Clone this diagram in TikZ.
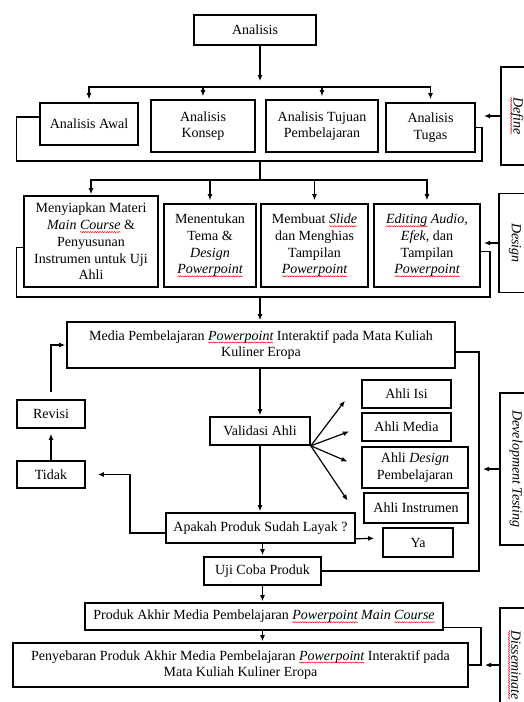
\documentclass[tikz,border=0pt]{standalone}
\usepackage{fontspec}
\setmainfont{Liberation Serif}
\usetikzlibrary{arrows.meta,calc,decorations.pathmorphing}
\newcommand{\spell}[1]{\tikz[baseline=(sp.base),x=1cm,y=1cm]{%
\node[inner sep=0pt, outer sep=0pt, minimum width=0pt, minimum height=0pt,
draw=none, fill=none, anchor=base] (sp) {#1};
\draw[overlay, red, line width=0.45pt, decorate,
decoration={snake, amplitude=0.6pt, segment length=2.4pt}]
([yshift=-2.4pt]sp.base west) -- ([yshift=-2.4pt]sp.base east);}}
\begin{document}
\begin{tikzpicture}[
x=1pt, y=-1pt,
box/.style={
draw,
line width=1.6pt,
align=center,
inner sep=1pt,
font=\fontsize{14}{16.7}\selectfont
},
stage/.style={box, font=\fontsize{14}{16.7}\selectfont\itshape},
line/.style={line width=1.2pt},
arrow/.style={line, -{Latex[length=6pt,width=5pt]}, shorten >=1pt}
]
\fill[white] (0,0) rectangle (524,702);
\useasboundingbox (0,0) rectangle (524,702);
\node[box, minimum width=122pt, minimum height=30pt] (analisis) at (255,30) {Analisis};
\node[box, minimum width=98pt, minimum height=42pt] (awal) at (89,124) {Analisis Awal};
\node[box, minimum width=104pt, minimum height=52pt] (konsep) at (203,126) {Analisis\\Konsep};
\node[box, minimum width=112pt, minimum height=52pt] (tujuan) at (322,126) {Analisis Tujuan\\Pembelajaran};
\node[box, minimum width=89pt, minimum height=49pt] (tugas) at (430.5,127.5) {Analisis\\Tugas};
\node[box, minimum width=134pt, minimum height=91pt] (siapkan) at (91,241.5)
{Menyiapkan Materi\\\textit{Main \spell{Course}} \&\\Penyusunan\\Instrumen untuk Uji\\Ahli};
\node[box, minimum width=92pt, minimum height=83pt] (tema) at (210,245.5)
{Menentukan\\Tema \&\\\textit{Design}\\\textit{\spell{Powerpoint}}};
\node[box, minimum width=107pt, minimum height=83pt] (slide) at (314.5,245.5)
{Membuat \textit{\spell{Slide}}\\dan Menghias\\Tampilan\\\textit{\spell{Powerpoint}}};
\node[box, minimum width=106pt, minimum height=83pt] (editing) at (427,245.5)
{\textit{\spell{Editing} Audio,}\\\textit{Efek}, dan\\Tampilan\\\textit{\spell{Powerpoint}}};
\node[box, minimum width=388pt, minimum height=46pt] (media) at (261,345)
{Media Pembelajaran \textit{\spell{Powerpoint}} Interaktif pada Mata Kuliah\\Kuliner Eropa};
\node[box, minimum width=100pt, minimum height=28pt] (validasi) at (260,431) {Validasi Ahli};
\node[box, minimum width=68pt, minimum height=28pt] (revisi) at (51,414) {Revisi};
\node[box, minimum width=68pt, minimum height=27pt] (tidak) at (51,474.5) {Tidak};
\node[box, minimum width=89pt, minimum height=28pt] (isi) at (406.5,394) {Ahli Isi};
\node[box, minimum width=89pt, minimum height=28pt] (ahlimedia) at (406.5,427) {Ahli Media};
\node[box, minimum width=106pt, minimum height=41pt] (desain) at (415,467.5) {Ahli \textit{Design}\\Pembelajaran};
\node[box, minimum width=104pt, minimum height=30pt] (instrumen) at (416,508) {Ahli Instrumen};
\node[box, minimum width=189pt, minimum height=30pt] (apakah) at (260.5,528) {Apakah Produk Sudah Layak ?};
\node[box, minimum width=70pt, minimum height=29pt] (ya) at (418,542.5) {Ya};
\node[box, minimum width=117pt, minimum height=28pt] (uji) at (262.5,571) {Uji Coba Produk};
\node[box, minimum width=358pt, minimum height=27pt] (produk) at (264,616.5)
{Produk Akhir Media Pembelajaran \textit{\spell{Powerpoint} Main \spell{Course}}};
\node[box, minimum width=455pt, minimum height=44pt] (sebar) at (240.5,665)
{Penyebaran Produk Akhir Media Pembelajaran \textit{\spell{Powerpoint}} Interaktif pada\\Mata Kuliah Kuliner Eropa};
\node[stage, minimum width=32pt, minimum height=98pt] (define) at (517,116) {\rotatebox{-90}{\spell{Define}}};
\node[stage, minimum width=32pt, minimum height=99pt] (design) at (515,243) {\rotatebox{-90}{Design}};
\node[stage, minimum width=32pt, minimum height=152pt] (devtest) at (516,469) {\rotatebox{-90}{Development Testing}};
\node[stage, minimum width=32pt, minimum height=114pt] (dissem) at (516,665) {\rotatebox{-90}{\spell{Disseminate}}};
\coordinate (busA) at (260,87);
\coordinate (rowA) at (482,161);
\coordinate (joinA) at (260,161);
\coordinate (busB) at (260,180);
\coordinate (rowB) at (490,297);
\coordinate (joinB) at (260,297);
\coordinate (turnT) at (130,474.5);
\coordinate (devJoin) at (479,469);
\coordinate (dissJoin) at (481,665);
\coordinate (defTip) at (483,116);
\coordinate (desTip) at (483,243);
\draw[arrow, shorten >=6pt] (analisis.south -| busA) -- (busA);
\draw[arrow, shorten >=3pt] (busA) -| (awal.north);
\draw[arrow, shorten >=3pt] (busA) -| (konsep.north);
\draw[arrow, shorten >=3pt] (busA) -| (tujuan.north);
\draw[arrow, shorten >=3pt] (busA) -| (tugas.north);
\draw[line] ($(awal.west)+(0,-7)$) -- ++(-23,0) |- (rowA) |- (tugas.east);
\draw[line] (joinA) -- (busB);
\draw[arrow] (busB) -| (siapkan.north);
\draw[arrow, shorten >=3pt] (busB) -| (tema.north);
\draw[arrow, shorten >=3pt] (busB) -| (slide.north);
\draw[arrow, shorten >=3pt] (busB) -| (editing.north);
\draw[line] ($(siapkan.west)+(0,6)$) -- ++(-7,0) |- (rowB) |- ($(editing.east)+(0,6)$);
\draw[arrow] (joinB) -- (media.north -| joinB);
\draw[arrow] (media.south -| validasi) -- (validasi.north);
\draw[arrow] (validasi.south) -- (validasi.south |- apakah.north);
\draw[arrow, shorten >=27pt] (validasi.south east) -- (isi.north west);
\draw[arrow, shorten >=13pt] (validasi.south east) -- (ahlimedia.west);
\draw[arrow, shorten >=15pt] (validasi.south east) -- (desain.west);
\draw[arrow, shorten >=28pt] (validasi.south east) -- (instrumen.south west);
\draw[arrow, shorten >=12pt] ($(apakah.west)+(0,5)$) -| (turnT) -- (tidak.east);
\draw[arrow, shorten >=5pt] (tidak.north) -- (revisi.south);
\draw[arrow, shorten <=7pt] (revisi.north) |- (media.west);
\draw[arrow, shorten >=8pt] ($(apakah.south east)+(0,-5)$) -- ($(ya.west)+(0,-4.5)$);
\draw[arrow] (uji.north |- apakah.south) -- (uji.north);
\draw[arrow] (uji.south) -- (uji.south |- produk.north);
\draw[arrow] (produk.south -| uji.south) -- (sebar.north -| uji.south);
\draw[line] ($(media.east)+(0,7)$) -| (devJoin) |- (uji.east);
\draw[line] ($(produk.south east)+(0,-3)$) -| (dissJoin) -- (sebar.east);
\draw[arrow] (define.west) -- (defTip);
\draw[arrow] (design.west) -- (desTip);
\draw[arrow, shorten >=4pt] (devtest.west) -- (devJoin);
\draw[arrow, shorten >=4pt] (dissem.west) -- (dissJoin);
\end{tikzpicture}
\end{document}
